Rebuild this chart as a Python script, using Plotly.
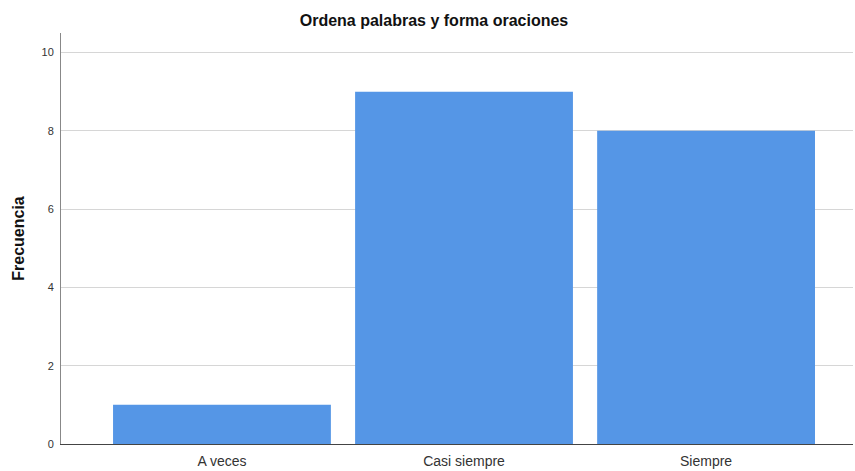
import plotly.graph_objects as go

categories = ["A veces", "Casi siempre", "Siempre"]
frecuencia = [1, 9, 8]
y_ticks = [0, 2, 4, 6, 8, 10]

fig = go.Figure()
fig.add_trace(go.Bar(
    x=list(range(len(categories))),
    y=frecuencia,
    width=0.9,
    marker=dict(color="#5596e6", line=dict(width=0)),
))

fig.update_layout(
    width=855, height=471,
    margin=dict(l=61, r=2, t=33, b=27),
    paper_bgcolor="white", plot_bgcolor="white",
    showlegend=False,
    title=dict(text="<b>Ordena palabras y forma oraciones</b>", x=0.5076, xanchor="center",
               y=0.957, yanchor="middle",
               font=dict(family="Liberation Sans, Arial", size=16, color="#111")),
    font=dict(family="Liberation Sans, Arial", color="#333"),
)
fig.update_xaxes(
    range=[-0.665, 2.607],
    tickmode="array", tickvals=list(range(len(categories))), ticktext=categories,
    tickfont=dict(size=14, color="#333"),
    showgrid=False, showline=True, linecolor="#444", linewidth=1,
    ticks="", zeroline=False, ticklabelstandoff=4,
)
fig.update_yaxes(
    range=[0, 10.5],
    tickmode="array", tickvals=y_ticks,
    tickfont=dict(size=11, color="#333"),
    showgrid=True, gridcolor="#d6d6d6", gridwidth=1,
    showline=True, linecolor="#888", linewidth=1,
    ticks="", zeroline=False, ticklabelstandoff=4,
    title=dict(text="<b>Frecuencia</b>", font=dict(size=16, color="#111"), standoff=12),
)

fig.write_html("out.html", config={"displayModeBar": False},
               post_script="document.body.style.margin='0';document.body.style.overflow='hidden';")
